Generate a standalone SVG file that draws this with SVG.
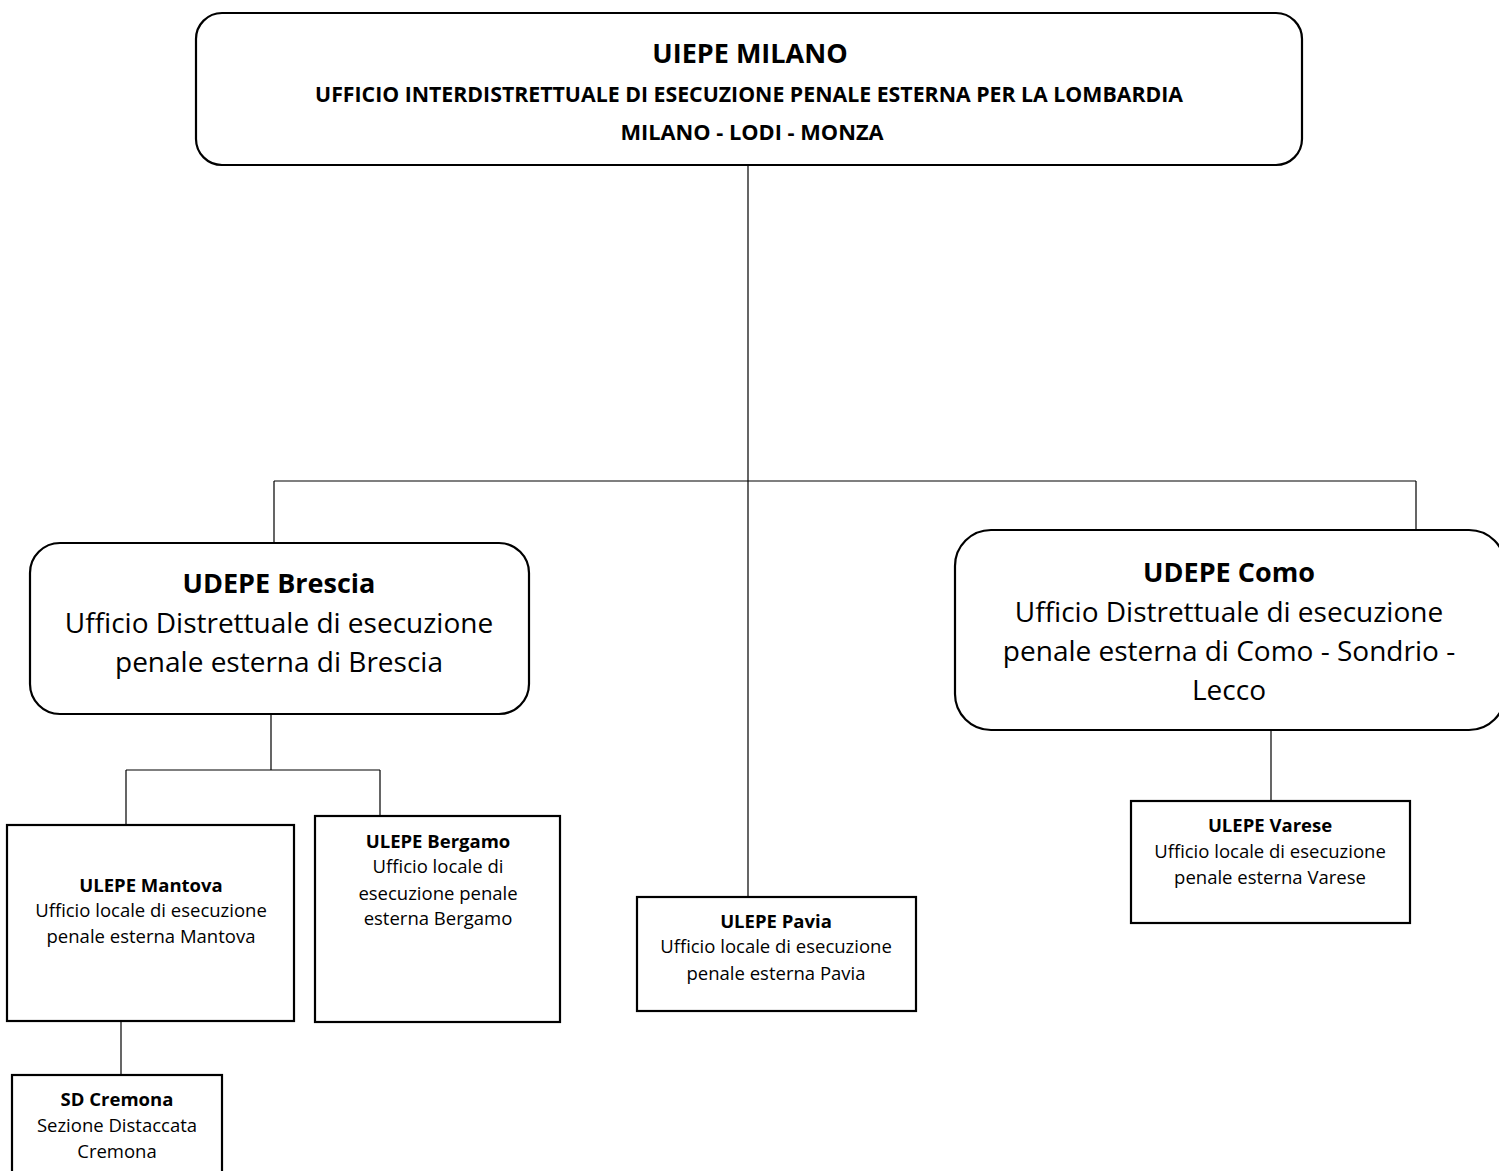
<svg xmlns="http://www.w3.org/2000/svg" width="1499" height="1171" viewBox="0 0 1499 1171">
<style>
.box{fill:#fff;stroke:#000;stroke-width:2.2}
.ln{fill:none;stroke:#000;stroke-width:1.2}
text{font-family:"Open Sans","Liberation Sans",sans-serif;fill:#000;text-anchor:middle}
.b{font-weight:bold}
.t1{font-size:27px}
.t2{font-size:21.3px}
.t3{font-size:21.8px}
.lb{font-size:27px}
.l{font-size:28px}
.s{font-size:18.5px}
</style>
<rect width="1499" height="1171" fill="#fff"/>
<g id="connectors">
<path class="ln" d="M748 165V897M274 481H1416M274 481V543M1416 481V530"/>
<path class="ln" d="M271 714V770M126 770H380M126 770V825M380 770V816"/>
<path class="ln" d="M121 1021V1075"/>
<path class="ln" d="M1271 730V801"/>
</g>
<g id="uiepe-milano">
<rect class="box" x="196" y="13" width="1106" height="152" rx="26"/>
<text class="b t1" x="750" y="63">UIEPE MILANO</text>
<text class="b t2" x="749" y="102">UFFICIO INTERDISTRETTUALE DI ESECUZIONE PENALE ESTERNA PER LA LOMBARDIA</text>
<text class="b t3" x="752" y="140">MILANO - LODI - MONZA</text>
</g>
<g id="udepe-brescia">
<rect class="box" x="30" y="543" width="499" height="171" rx="30"/>
<text class="b lb" x="279" y="593">UDEPE Brescia</text>
<text class="l" x="279" y="633">Ufficio Distrettuale di esecuzione</text>
<text class="l" x="279" y="672">penale esterna di Brescia</text>
</g>
<g id="udepe-como">
<rect class="box" x="955" y="530" width="550" height="200" rx="36"/>
<text class="b lb" x="1229" y="582">UDEPE Como</text>
<text class="l" x="1229" y="622">Ufficio Distrettuale di esecuzione</text>
<text class="l" x="1229" y="661">penale esterna di Como - Sondrio -</text>
<text class="l" x="1229" y="700">Lecco</text>
</g>
<g id="ulepe-mantova">
<rect class="box" x="7" y="825" width="287" height="196"/>
<text class="b s" x="151" y="892">ULEPE Mantova</text>
<text class="s" x="151" y="917">Ufficio locale di esecuzione</text>
<text class="s" x="151" y="943">penale esterna Mantova</text>
</g>
<g id="ulepe-bergamo">
<rect class="box" x="315" y="816" width="245" height="206"/>
<text class="b s" x="438" y="848">ULEPE Bergamo</text>
<text class="s" x="438" y="873">Ufficio locale di</text>
<text class="s" x="438" y="900">esecuzione penale</text>
<text class="s" x="438" y="925">esterna Bergamo</text>
</g>
<g id="ulepe-pavia">
<rect class="box" x="637" y="897" width="279" height="114"/>
<text class="b s" x="776" y="928">ULEPE Pavia</text>
<text class="s" x="776" y="953">Ufficio locale di esecuzione</text>
<text class="s" x="776" y="980">penale esterna Pavia</text>
</g>
<g id="ulepe-varese">
<rect class="box" x="1131" y="801" width="279" height="122"/>
<text class="b s" x="1270" y="832">ULEPE Varese</text>
<text class="s" x="1270" y="858">Ufficio locale di esecuzione</text>
<text class="s" x="1270" y="884">penale esterna Varese</text>
</g>
<g id="sd-cremona">
<rect class="box" x="12" y="1075" width="210" height="110"/>
<text class="b s" x="117" y="1106">SD Cremona</text>
<text class="s" x="117" y="1132">Sezione Distaccata</text>
<text class="s" x="117" y="1158">Cremona</text>
</g>
</svg>
